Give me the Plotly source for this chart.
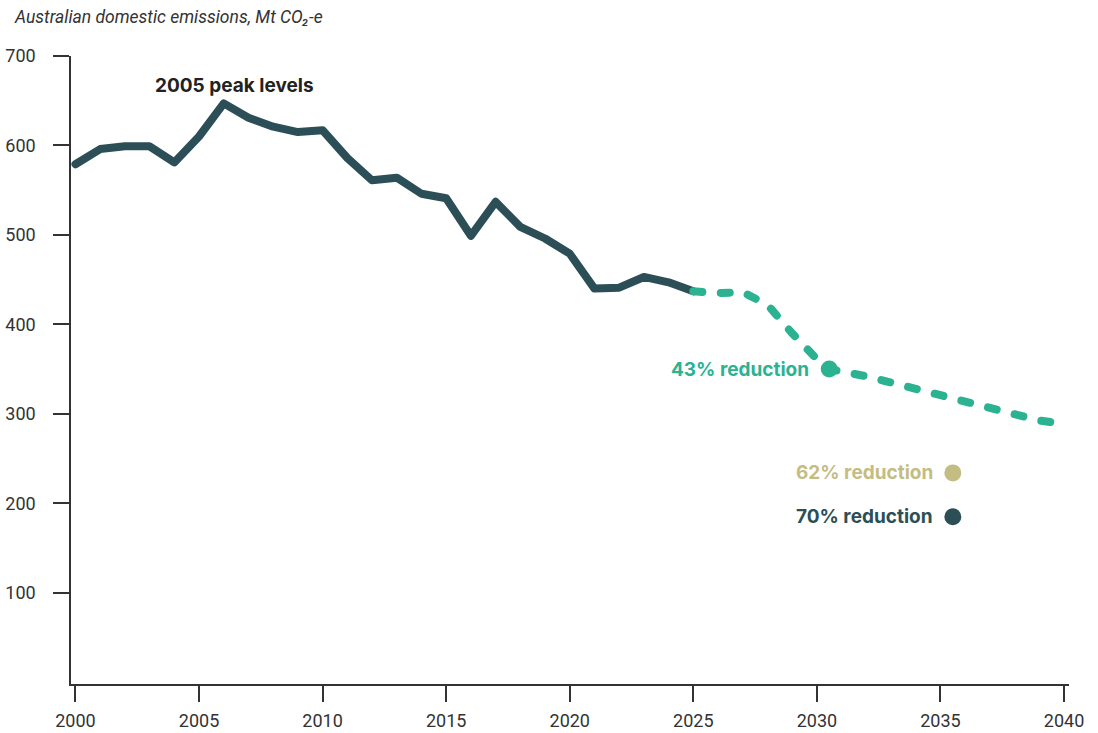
import plotly.graph_objects as go

# ---- data ----
hist_years = list(range(2000, 2026))
hist_values = [579, 596, 599, 599, 581, 610, 647, 631, 621, 615, 617, 586, 561, 564, 546,
               541, 499, 537, 509, 496, 479, 440, 441, 453, 447, 437]

proj_years = [2025, 2026, 2027, 2028, 2029, 2030, 2030.5, 2031, 2032, 2033, 2034, 2035,
              2036, 2037, 2038, 2039, 2040]
proj_values = [437, 435, 436, 422, 390, 361, 350, 348, 342, 335, 328, 320,
               312, 305, 298, 292.5, 289]

target_years = [2030.5, 2035.5, 2035.5]
target_values = [350, 234, 185]
target_labels = ["43% reduction", "62% reduction", "70% reduction"]
target_colors = ["#2bb291", "#c4bd83", "#2c4f57"]

x_ticks = [2000, 2005, 2010, 2015, 2020, 2025, 2030, 2035, 2040]
y_ticks = [100, 200, 300, 400, 500, 600, 700]

DARK = "#2c4f57"
GREEN = "#2bb291"
AXIS = "#333333"

fig = go.Figure()

fig.add_trace(go.Scatter(x=hist_years, y=hist_values, mode="lines",
                         line=dict(color=DARK, width=8), hoverinfo="skip"))
fig.add_trace(go.Scatter(x=proj_years, y=proj_values, mode="lines",
                         line=dict(color=GREEN, width=8, dash="9px,18.5px"), hoverinfo="skip"))
fig.add_trace(go.Scatter(x=target_years, y=target_values, mode="markers",
                         marker=dict(color=target_colors, size=17, line=dict(width=0)),
                         hoverinfo="skip"))

annotations = [
    dict(text="Australian domestic emissions, Mt CO₂-e", xref="paper", yref="paper",
         x=-0.0591, y=1.062, xanchor="left", yanchor="middle", showarrow=False,
         font=dict(family="Roboto", size=17.5, color=AXIS, style="italic")),
    dict(text="<b>2005 peak levels</b>", xref="x", yref="y", x=2006.42, y=667,
         xanchor="center", yanchor="middle", showarrow=False,
         font=dict(family="Inter", size=19, color="#222222")),
]
for xv, yv, lab, col in zip(target_years, target_values, target_labels, target_colors):
    annotations.append(dict(text="<b>" + lab + "</b>", xref="x", yref="y", x=xv, y=yv,
                            xanchor="right", yanchor="middle", xshift=-18, showarrow=False,
                            font=dict(family="Inter", size=19, color=col)))

fig.update_layout(
    width=1098, height=733,
    margin=dict(l=71, r=29, t=56, b=49),
    paper_bgcolor="white", plot_bgcolor="white",
    showlegend=False,
    annotations=annotations,
    font=dict(family="Roboto", color=AXIS),
)
fig.update_xaxes(range=[1999.82, 2040.2], tickvals=x_ticks, showgrid=False, zeroline=False,
                 showline=True, linecolor=AXIS, linewidth=1.5, automargin=False,
                 ticks="outside", ticklen=16, tickwidth=1.5, tickcolor=AXIS,
                 tickfont=dict(family="Roboto", size=18, color=AXIS), ticklabelstandoff=4)
fig.update_yaxes(range=[-2, 700], tickvals=y_ticks, showgrid=False, zeroline=False,
                 showline=True, linecolor=AXIS, linewidth=1.5, automargin=False,
                 ticks="outside", ticklen=16, tickwidth=1.5, tickcolor=AXIS,
                 tickfont=dict(family="Roboto", size=18, color=AXIS), ticklabelstandoff=14)

post = """
document.querySelectorAll('.scatterlayer .js-line').forEach(function(p){
  p.style.strokeLinecap='round'; p.style.strokeLinejoin='round';
});
"""
fig.write_html("out.html", post_script=post)
